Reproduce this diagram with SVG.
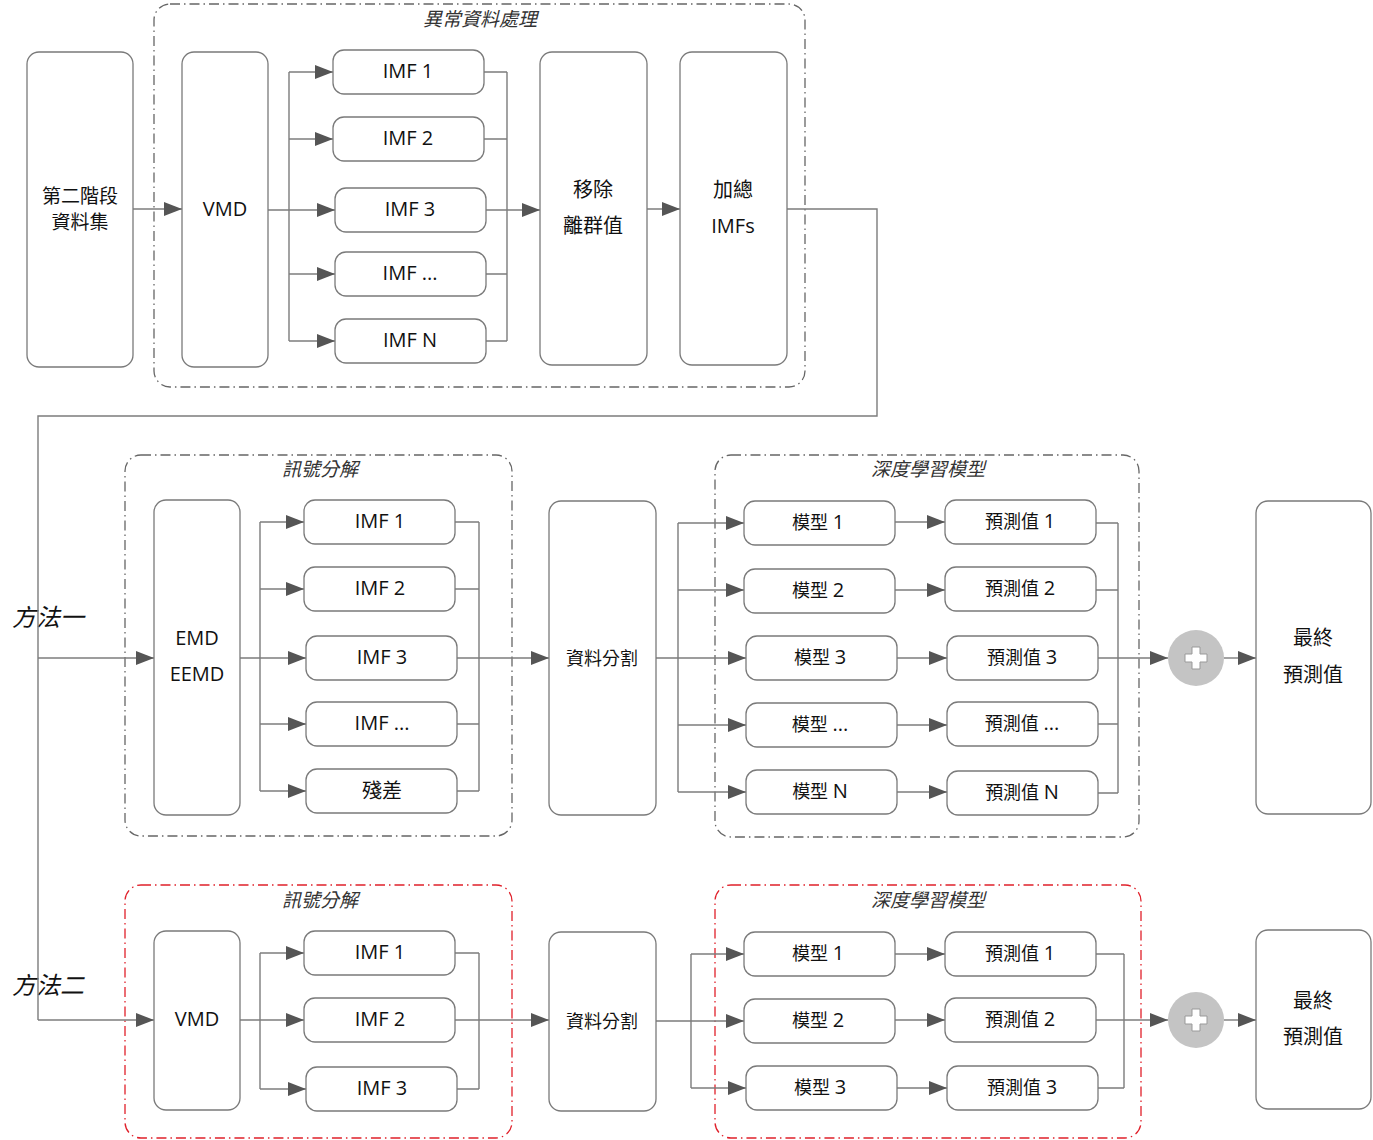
<svg xmlns="http://www.w3.org/2000/svg" width="1373" height="1140" viewBox="0 0 1373 1140">
<defs>
<marker id="arr" markerUnits="userSpaceOnUse" markerWidth="18" markerHeight="14" refX="18" refY="7" orient="auto">
<path d="M0,0 L18,7 L0,14 z" fill="#555"/>
</marker>
<style>
.node{fill:#fff;stroke:#7a7a7a;stroke-width:1.3}
.grp{fill:none;stroke:#666;stroke-width:1.3;stroke-dasharray:10 4 1.5 4}
.red{stroke:#e0202a}
.ln{fill:none;stroke:#7c7c7c;stroke-width:1.4}
.ar{marker-end:url(#arr)}
text{font-family:"Open Sans","Noto Sans CJK TC",sans-serif;fill:#111;text-anchor:middle}
.t20{font-size:20px}
.t19{font-size:19px}
.t18{font-size:18px}
.d{font-size:20px}
.title{font-size:19px;font-style:italic;fill:#333}
.side{font-size:24px;font-style:italic}
.plus{fill:#c4c4c4}
.pl{fill:#fff;stroke:#999;stroke-width:1}
</style>
</defs>
<rect width="1373" height="1140" fill="#fff"/>

<!-- groups -->
<g id="grp-anomaly"><rect class="grp" x="154" y="4" width="651" height="383" rx="16"/><text class="title" x="480" y="26">異常資料處理</text></g>
<g id="grp-decomp1"><rect class="grp" x="125" y="455" width="387" height="381" rx="16"/><text class="title" x="320" y="476">訊號分解</text></g>
<g id="grp-dl1"><rect class="grp" x="715" y="455" width="424" height="382" rx="16"/><text class="title" x="928" y="476">深度學習模型</text></g>
<g id="grp-decomp2"><rect class="grp red" x="125" y="885" width="387" height="253" rx="16"/><text class="title" x="320" y="907">訊號分解</text></g>
<g id="grp-dl2"><rect class="grp red" x="715" y="885" width="426" height="253" rx="16"/><text class="title" x="928" y="907">深度學習模型</text></g>

<text class="side" x="48" y="626">方法一</text>
<text class="side" x="48" y="994">方法二</text>

<!-- connectors -->
<g id="connectors">
<path class="ln ar" d="M133,209 H182"/>
<path class="ln" d="M268,210 H289 M289,72 V341"/>
<path class="ln ar" d="M289,72 H333"/>
<path class="ln ar" d="M289,139 H333"/>
<path class="ln ar" d="M289,210 H335"/>
<path class="ln ar" d="M289,274 H335"/>
<path class="ln ar" d="M289,341 H335"/>
<path class="ln" d="M484,72 H507 M484,139 H507 M486,274 H507 M486,341 H507 M507,72 V341"/>
<path class="ln ar" d="M486,210 H540"/>
<path class="ln ar" d="M647,209 H680"/>
<path class="ln" d="M787,209 H877 V416 H38 V1020"/>
<path class="ln ar" d="M38,658 H154"/>
<path class="ln ar" d="M38,1020 H154"/>
<path class="ln" d="M240,658 H260 M260,522 V791"/>
<path class="ln ar" d="M260,522 H304"/>
<path class="ln ar" d="M260,589 H304"/>
<path class="ln ar" d="M260,658 H306"/>
<path class="ln ar" d="M260,724 H306"/>
<path class="ln ar" d="M260,791 H306"/>
<path class="ln" d="M455,522 H479 M455,589 H479 M457,724 H479 M457,791 H479 M479,522 V791"/>
<path class="ln ar" d="M457,658 H549"/>
<path class="ln" d="M656,658 H678 M678,523 V792"/>
<path class="ln ar" d="M678,523 H744"/>
<path class="ln ar" d="M678,590 H744"/>
<path class="ln ar" d="M678,658 H746"/>
<path class="ln ar" d="M678,725 H746"/>
<path class="ln ar" d="M678,792 H746"/>
<path class="ln ar" d="M895,522 H945"/>
<path class="ln ar" d="M895,590 H945"/>
<path class="ln ar" d="M897,658 H947"/>
<path class="ln ar" d="M897,725 H947"/>
<path class="ln ar" d="M897,792 H947"/>
<path class="ln" d="M1096,523 H1118 M1096,590 H1118 M1098,724 H1118 M1098,793 H1118 M1118,523 V793"/>
<path class="ln ar" d="M1098,658 H1168"/>
<path class="ln ar" d="M1224,658 H1256"/>
<path class="ln" d="M260,953 V1089"/>
<path class="ln ar" d="M260,953 H304"/>
<path class="ln ar" d="M240,1020 H304"/>
<path class="ln ar" d="M260,1089 H306"/>
<path class="ln" d="M455,953 H479 M457,1089 H479 M479,953 V1089"/>
<path class="ln ar" d="M455,1020 H549"/>
<path class="ln" d="M656,1021 H691 M691,954 V1088"/>
<path class="ln ar" d="M691,954 H744"/>
<path class="ln ar" d="M691,1021 H744"/>
<path class="ln ar" d="M691,1088 H746"/>
<path class="ln ar" d="M895,954 H945"/>
<path class="ln ar" d="M895,1020 H945"/>
<path class="ln ar" d="M897,1088 H947"/>
<path class="ln" d="M1096,954 H1124 M1098,1088 H1124 M1124,954 V1088"/>
<path class="ln ar" d="M1096,1020 H1168"/>
<path class="ln ar" d="M1224,1020 H1256"/>
</g>

<!-- top nodes -->
<g id="n-dataset"><rect class="node" x="27" y="52" width="106" height="315" rx="12"/><text class="t19" x="80" y="203">第二階段</text><text class="t19" x="80" y="229">資料集</text></g>
<g id="n-vmd1"><rect class="node" x="182" y="52" width="86" height="315" rx="12"/><text class="t20" x="225" y="216">VMD</text></g>
<g id="n-t-imf1"><rect class="node" x="333" y="50" width="151" height="44" rx="11"/><text class="t20" x="408" y="78">IMF 1</text></g>
<g id="n-t-imf2"><rect class="node" x="333" y="117" width="151" height="44" rx="11"/><text class="t20" x="408" y="145">IMF 2</text></g>
<g id="n-t-imf3"><rect class="node" x="335" y="188" width="151" height="44" rx="11"/><text class="t20" x="410" y="216">IMF 3</text></g>
<g id="n-t-imfx"><rect class="node" x="335" y="252" width="151" height="44" rx="11"/><text class="t20" x="410" y="280">IMF ...</text></g>
<g id="n-t-imfn"><rect class="node" x="335" y="319" width="151" height="44" rx="11"/><text class="t20" x="410" y="347">IMF N</text></g>
<g id="n-remove"><rect class="node" x="540" y="52" width="107" height="313" rx="12"/><text class="t20" x="593" y="197">移除</text><text class="t20" x="593" y="233">離群值</text></g>
<g id="n-sum"><rect class="node" x="680" y="52" width="107" height="313" rx="12"/><text class="t20" x="733" y="197">加總</text><text class="t20" x="733" y="233">IMFs</text></g>

<!-- middle nodes -->
<g id="n-emd"><rect class="node" x="154" y="500" width="86" height="315" rx="12"/><text class="t20" x="197" y="645">EMD</text><text class="t20" x="197" y="681">EEMD</text></g>
<g id="n-m-imf1"><rect class="node" x="304" y="500" width="151" height="44" rx="11"/><text class="t20" x="380" y="528">IMF 1</text></g>
<g id="n-m-imf2"><rect class="node" x="304" y="567" width="151" height="44" rx="11"/><text class="t20" x="380" y="595">IMF 2</text></g>
<g id="n-m-imf3"><rect class="node" x="306" y="636" width="151" height="44" rx="11"/><text class="t20" x="382" y="664">IMF 3</text></g>
<g id="n-m-imfx"><rect class="node" x="306" y="702" width="151" height="44" rx="11"/><text class="t20" x="382" y="730">IMF ...</text></g>
<g id="n-m-res"><rect class="node" x="306" y="769" width="151" height="44" rx="11"/><text class="t20" x="382" y="798">殘差</text></g>
<g id="n-split1"><rect class="node" x="549" y="501" width="107" height="314" rx="12"/><text class="t18" x="602" y="665">資料分割</text></g>
<g id="n-mod1"><rect class="node" x="744" y="501" width="151" height="44" rx="11"/><text class="t18" x="818" y="529">模型 <tspan class="d">1</tspan></text></g>
<g id="n-mod2"><rect class="node" x="744" y="569" width="151" height="44" rx="11"/><text class="t18" x="818" y="597">模型 <tspan class="d">2</tspan></text></g>
<g id="n-mod3"><rect class="node" x="746" y="636" width="151" height="44" rx="11"/><text class="t18" x="820" y="664">模型 <tspan class="d">3</tspan></text></g>
<g id="n-modx"><rect class="node" x="746" y="703" width="151" height="44" rx="11"/><text class="t18" x="820" y="731">模型 <tspan class="d">...</tspan></text></g>
<g id="n-modn"><rect class="node" x="746" y="770" width="151" height="44" rx="11"/><text class="t18" x="820" y="798">模型 <tspan class="d">N</tspan></text></g>
<g id="n-pred1"><rect class="node" x="945" y="500" width="151" height="44" rx="11"/><text class="t18" x="1020" y="528">預測值 <tspan class="d">1</tspan></text></g>
<g id="n-pred2"><rect class="node" x="945" y="567" width="151" height="44" rx="11"/><text class="t18" x="1020" y="595">預測值 <tspan class="d">2</tspan></text></g>
<g id="n-pred3"><rect class="node" x="947" y="636" width="151" height="44" rx="11"/><text class="t18" x="1022" y="664">預測值 <tspan class="d">3</tspan></text></g>
<g id="n-predx"><rect class="node" x="947" y="702" width="151" height="44" rx="11"/><text class="t18" x="1022" y="730">預測值 <tspan class="d">...</tspan></text></g>
<g id="n-predn"><rect class="node" x="947" y="771" width="151" height="44" rx="11"/><text class="t18" x="1022" y="799">預測值 <tspan class="d">N</tspan></text></g>
<g id="n-plus1"><circle class="plus" cx="1196" cy="658" r="28"/><path class="pl" d="M1192,647 h8 v7 h7 v8 h-7 v7 h-8 v-7 h-7 v-8 h7 z"/></g>
<g id="n-final1"><rect class="node" x="1256" y="501" width="115" height="313" rx="12"/><text class="t20" x="1313" y="645">最終</text><text class="t20" x="1313" y="682">預測值</text></g>

<!-- bottom nodes -->
<g id="n-vmd2"><rect class="node" x="154" y="931" width="86" height="179" rx="12"/><text class="t20" x="197" y="1026">VMD</text></g>
<g id="n-b-imf1"><rect class="node" x="304" y="931" width="151" height="44" rx="11"/><text class="t20" x="380" y="959">IMF 1</text></g>
<g id="n-b-imf2"><rect class="node" x="304" y="998" width="151" height="44" rx="11"/><text class="t20" x="380" y="1026">IMF 2</text></g>
<g id="n-b-imf3"><rect class="node" x="306" y="1067" width="151" height="44" rx="11"/><text class="t20" x="382" y="1095">IMF 3</text></g>
<g id="n-split2"><rect class="node" x="549" y="932" width="107" height="179" rx="12"/><text class="t18" x="602" y="1028">資料分割</text></g>
<g id="n-bmod1"><rect class="node" x="744" y="932" width="151" height="44" rx="11"/><text class="t18" x="818" y="960">模型 <tspan class="d">1</tspan></text></g>
<g id="n-bmod2"><rect class="node" x="744" y="999" width="151" height="44" rx="11"/><text class="t18" x="818" y="1027">模型 <tspan class="d">2</tspan></text></g>
<g id="n-bmod3"><rect class="node" x="746" y="1066" width="151" height="44" rx="11"/><text class="t18" x="820" y="1094">模型 <tspan class="d">3</tspan></text></g>
<g id="n-bpred1"><rect class="node" x="945" y="932" width="151" height="44" rx="11"/><text class="t18" x="1020" y="960">預測值 <tspan class="d">1</tspan></text></g>
<g id="n-bpred2"><rect class="node" x="945" y="998" width="151" height="44" rx="11"/><text class="t18" x="1020" y="1026">預測值 <tspan class="d">2</tspan></text></g>
<g id="n-bpred3"><rect class="node" x="947" y="1066" width="151" height="44" rx="11"/><text class="t18" x="1022" y="1094">預測值 <tspan class="d">3</tspan></text></g>
<g id="n-plus2"><circle class="plus" cx="1196" cy="1020" r="28"/><path class="pl" d="M1192,1009 h8 v7 h7 v8 h-7 v7 h-8 v-7 h-7 v-8 h7 z"/></g>
<g id="n-final2"><rect class="node" x="1256" y="930" width="115" height="179" rx="12"/><text class="t20" x="1313" y="1008">最終</text><text class="t20" x="1313" y="1044">預測值</text></g>
</svg>
